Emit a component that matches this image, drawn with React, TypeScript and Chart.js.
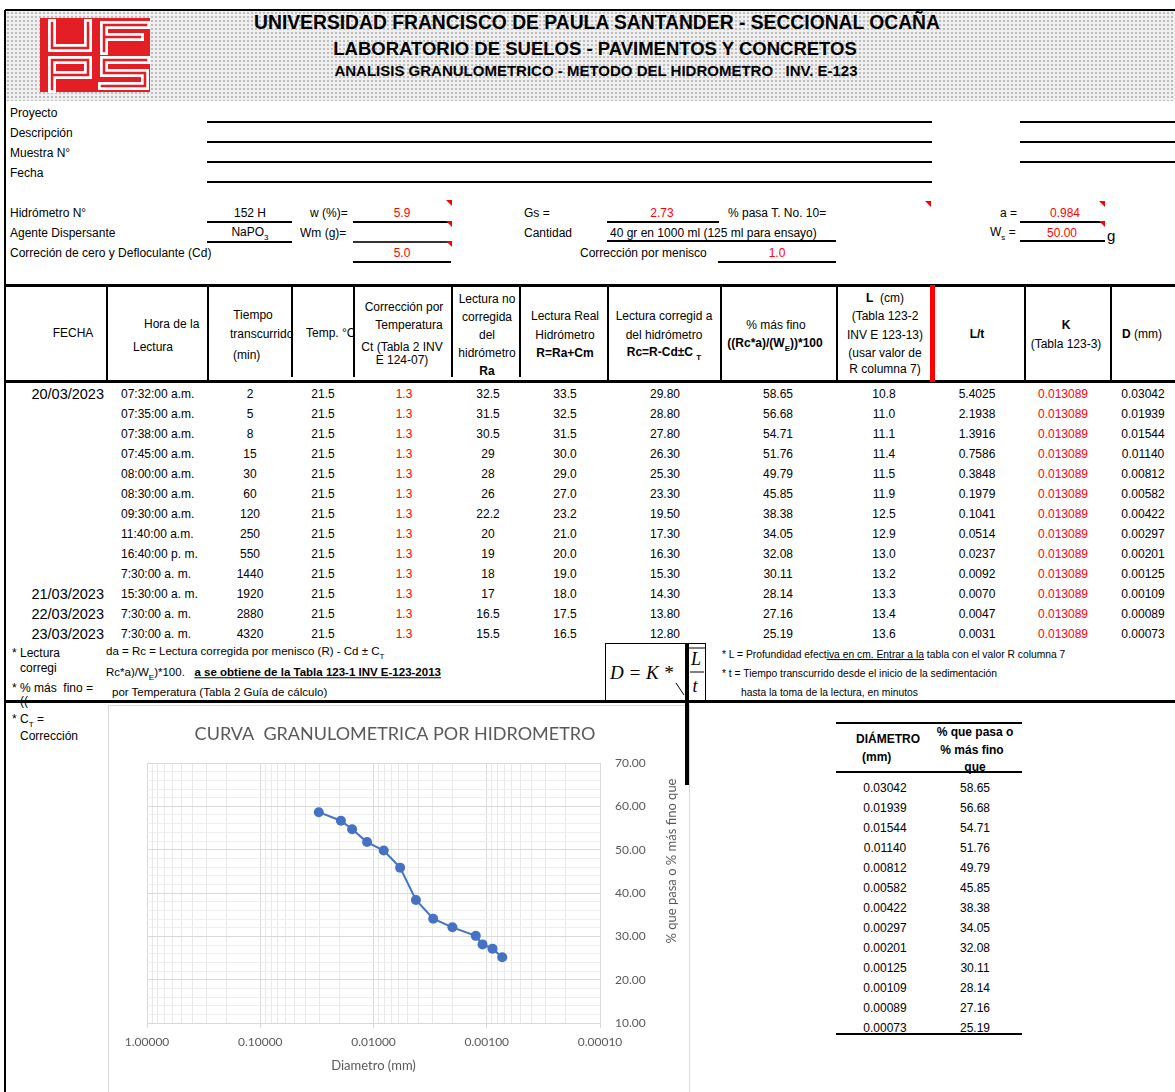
import React, { useEffect, useRef } from 'react';
import { Chart, registerables } from 'chart.js';

Chart.register(...registerables);

// ---------------- DATA ----------------
const fechas = ['20/03/2023', '', '', '', '', '', '', '', '', '', '21/03/2023', '22/03/2023', '23/03/2023'];
const horas = ['07:32:00 a.m.', '07:35:00 a.m.', '07:38:00 a.m.', '07:45:00 a.m.', '08:00:00 a.m.', '08:30:00 a.m.', '09:30:00 a.m.', '11:40:00 a.m.', '16:40:00 p. m.', '7:30:00 a. m.', '15:30:00 a. m.', '7:30:00 a. m.', '7:30:00 a. m.'];
const tiempos = ['2', '5', '8', '15', '30', '60', '120', '250', '550', '1440', '1920', '2880', '4320'];
const temps = ['21.5', '21.5', '21.5', '21.5', '21.5', '21.5', '21.5', '21.5', '21.5', '21.5', '21.5', '21.5', '21.5'];
const ctVals = ['1.3', '1.3', '1.3', '1.3', '1.3', '1.3', '1.3', '1.3', '1.3', '1.3', '1.3', '1.3', '1.3'];
const raVals = ['32.5', '31.5', '30.5', '29', '28', '26', '22.2', '20', '19', '18', '17', '16.5', '15.5'];
const rRealVals = ['33.5', '32.5', '31.5', '30.0', '29.0', '27.0', '23.2', '21.0', '20.0', '19.0', '18.0', '17.5', '16.5'];
const rcVals = ['29.80', '28.80', '27.80', '26.30', '25.30', '23.30', '19.50', '17.30', '16.30', '15.30', '14.30', '13.80', '12.80'];
const pctFiner = [58.65, 56.68, 54.71, 51.76, 49.79, 45.85, 38.38, 34.05, 32.08, 30.11, 28.14, 27.16, 25.19];
const lCm = ['10.8', '11.0', '11.1', '11.4', '11.5', '11.9', '12.5', '12.9', '13.0', '13.2', '13.3', '13.4', '13.6'];
const lOverT = ['5.4025', '2.1938', '1.3916', '0.7586', '0.3848', '0.1979', '0.1041', '0.0514', '0.0237', '0.0092', '0.0070', '0.0047', '0.0031'];
const kVals = ['0.013089', '0.013089', '0.013089', '0.013089', '0.013089', '0.013089', '0.013089', '0.013089', '0.013089', '0.013089', '0.013089', '0.013089', '0.013089'];
const diamMm = [0.03042, 0.01939, 0.01544, 0.0114, 0.00812, 0.00582, 0.00422, 0.00297, 0.00201, 0.00125, 0.00109, 0.00089, 0.00073];

const chartTitle = 'CURVA  GRANULOMETRICA POR HIDROMETRO';
const xTitle = 'Diametro (mm)';
const yTitle = '% que pasa o % más fino que';
const xMin = 0.0001;
const xMax = 1;
const yMin = 10;
const yMax = 70;
const yMinorStep = 2;
const yMajorStep = 10;

// ---------------- HELPERS ----------------
const F = '"Liberation Sans", Arial, Helvetica, sans-serif';
const RED = '#ff0000';
const BLUE = '#4472c4';

type TP = {
  x: number; y: number; children?: React.ReactNode; a?: 'left' | 'center' | 'right';
  s?: number; c?: string; b?: boolean; u?: boolean; i?: boolean; f?: string;
};
function T({ x, y, children, a = 'left', s = 12, c = '#000', b = false, u = false, i = false, f = F }: TP) {
  const tx = a === 'center' ? '-50%' : a === 'right' ? '-100%' : '0';
  return (
    <div
      style={{
        position: 'absolute', left: x, top: y + 1, transform: `translate(${tx},-50%)`,
        fontSize: s, color: c, fontWeight: b ? 700 : 400, textDecoration: u ? 'underline' : 'none',
        fontStyle: i ? 'italic' : 'normal', fontFamily: f, whiteSpace: 'nowrap', lineHeight: 1.15,
      }}
    >
      {children}
    </div>
  );
}
function H({ x1, x2, y, w = 1, c = '#000' }: { x1: number; x2: number; y: number; w?: number; c?: string }) {
  return <div style={{ position: 'absolute', left: x1, top: y - w / 2, width: x2 - x1, height: w, background: c }} />;
}
function V({ x, y1, y2, w = 1, c = '#000' }: { x: number; y1: number; y2: number; w?: number; c?: string }) {
  return <div style={{ position: 'absolute', left: x - w / 2, top: y1, width: w, height: y2 - y1, background: c }} />;
}
function Tri({ x, y }: { x: number; y: number }) {
  return (
    <div style={{ position: 'absolute', left: x, top: y, width: 0, height: 0, borderTop: `6px solid ${RED}`, borderLeft: '6px solid transparent' }} />
  );
}

const isDecade = (v: number) => {
  if (!v || v <= 0) return false;
  const l = Math.log10(v);
  return Math.abs(l - Math.round(l)) < 1e-9;
};

// grid positions for the log axis (1..9 x 10^n)
const xGridValues: number[] = [];
for (let e = -4; e < 0; e++) {
  for (let m = 1; m <= 9; m++) xGridValues.push(Number((m * Math.pow(10, e)).toPrecision(6)));
}
xGridValues.push(1);
const yGridValues: number[] = [];
for (let v = yMin; v <= yMax; v += yMinorStep) yGridValues.push(v);

// ---------------- CHART ----------------
const textPlugin = {
  id: 'extraTexts',
  afterDraw(chart: any) {
    const { ctx, chartArea, width } = chart;
    ctx.save();
    ctx.fillStyle = '#595959';
    ctx.textAlign = 'center';
    ctx.textBaseline = 'middle';
    ctx.font = '18px Lato, "Open Sans", sans-serif';
    ctx.fillText(chartTitle, width / 2 - 4, 29);
    ctx.translate(chartArea.right + 72, chartArea.top + 98);
    ctx.rotate(-Math.PI / 2);
    ctx.font = '13px Lato, "Open Sans", sans-serif';
    ctx.fillText(yTitle, 0, 0);
    ctx.restore();
  },
};

function GranChart() {
  const ref = useRef<HTMLCanvasElement>(null);
  useEffect(() => {
    const chart = new Chart(ref.current as HTMLCanvasElement, {
      type: 'scatter',
      data: {
        datasets: [
          {
            data: diamMm.map((d, i) => ({ x: d, y: pctFiner[i] })),
            showLine: true,
            borderColor: BLUE,
            backgroundColor: BLUE,
            borderWidth: 2,
            pointRadius: 5,
            pointHoverRadius: 5,
            pointBorderWidth: 0,
            tension: 0,
          },
        ],
      },
      options: {
        animation: false,
        responsive: false,
        devicePixelRatio: 1,
        layout: { padding: { left: 39, top: 58, right: 0, bottom: 0 } },
        plugins: { legend: { display: false }, tooltip: { enabled: false }, title: { display: false } },
        scales: {
          x: {
            type: 'logarithmic',
            reverse: true,
            min: xMin,
            max: xMax,
            position: 'bottom',
            afterBuildTicks: (s: any) => {
              s.ticks = xGridValues.map((v) => ({ value: v }));
            },
            afterFit: (s: any) => {
              s.height = 69;
            },
            ticks: {
              autoSkip: false,
              maxRotation: 0,
              minRotation: 0,
              padding: 7,
              color: '#595959',
              font: { family: 'Lato, "Open Sans", sans-serif', size: 12 },
              callback: (v: any) => (isDecade(Number(v)) ? Number(v).toFixed(5) : ''),
            },
            grid: {
              color: (ctx: any) => (ctx.tick && isDecade(ctx.tick.value) ? '#d9d9d9' : '#e9e9e9'),
              tickColor: (ctx: any) => (ctx.tick && isDecade(ctx.tick.value) ? '#d9d9d9' : 'rgba(0,0,0,0)'),
              tickLength: 5,
              lineWidth: 1,
            },
            border: { color: '#d9d9d9' },
            title: {
              display: true,
              text: xTitle,
              color: '#595959',
              font: { family: 'Lato, "Open Sans", sans-serif', size: 13 },
              padding: { top: 0, bottom: 18 },
            },
          },
          y: {
            type: 'linear',
            position: 'right',
            min: yMin,
            max: yMax,
            afterBuildTicks: (s: any) => {
              s.ticks = yGridValues.map((v) => ({ value: v }));
            },
            afterFit: (s: any) => {
              s.width = 90;
            },
            ticks: {
              autoSkip: false,
              padding: 15,
              color: '#595959',
              font: { family: 'Lato, "Open Sans", sans-serif', size: 12 },
              callback: (v: any) => (Number(v) % yMajorStep === 0 ? Number(v).toFixed(2) : ''),
            },
            grid: {
              color: (ctx: any) => (ctx.tick && ctx.tick.value % yMajorStep === 0 ? '#d9d9d9' : '#eeeeee'),
              drawTicks: false,
              lineWidth: 1,
            },
            border: { display: false },
          },
        },
      } as any,
      plugins: [textPlugin],
    });
    return () => chart.destroy();
  }, []);
  return <canvas ref={ref} width={582} height={387} style={{ position: 'absolute', left: 0, top: 0, width: 582, height: 387 }} />;
}

// ---------------- LOGO ----------------
function Logo() {
  const paths = [
    'M52 23 V48 H88 V23',
    'M146 25 H104 V51 M104 37 H140',
    'M52 89 V60 H88 V75 H53',
    'M146 60 H104 V73 H145 V86 H102',
  ];
  return (
    <svg style={{ position: 'absolute', left: 0, top: 0 }} width={160} height={100}>
      <rect x={40} y={18} width={110} height={74} fill="#e31e24" />
      {paths.map((d, i) => (
        <path key={'w' + i} d={d} fill="none" stroke="#fff" strokeWidth={8} strokeLinejoin="miter" strokeLinecap="square" />
      ))}
      {paths.map((d, i) => (
        <path key={'r' + i} d={d} fill="none" stroke="#e31e24" strokeWidth={2.5} strokeLinejoin="miter" strokeLinecap="square" />
      ))}
    </svg>
  );
}

// ---------------- APP ----------------
export default function App() {
  const rowY = (i: number) => 394 + i * 20;
  const sideY = (i: number) => 788 + i * 20;
  const serif = '"Liberation Serif", "Times New Roman", serif';
  return (
    <div style={{ position: 'absolute', left: 0, top: 0, width: 1175, height: 1092, overflow: 'hidden', background: '#fff', fontFamily: F }}>
      {/* header band */}
      <div
        style={{
          position: 'absolute', left: 6, top: 11, width: 1169, height: 90,
          backgroundColor: '#efefef',
          backgroundImage: 'radial-gradient(#bdbdbd 0.9px, transparent 1.1px)',
          backgroundSize: '4px 4px',
        }}
      />
      <H x1={5} x2={1175} y={10} w={1.5} />
      <V x={5} y1={10} y2={1092} w={1.5} />
      <Logo />
      <T x={597} y={22} a="center" s={19.3} b>UNIVERSIDAD FRANCISCO DE PAULA SANTANDER - SECCIONAL OCAÑA</T>
      <T x={595} y={48} a="center" s={18.5} b>LABORATORIO DE SUELOS - PAVIMENTOS Y CONCRETOS</T>
      <T x={596} y={70} a="center" s={15} b>ANALISIS GRANULOMETRICO - METODO DEL HIDROMETRO &nbsp; INV. E-123</T>

      {/* form */}
      <T x={10} y={113}>Proyecto</T>
      <T x={10} y={133}>Descripción</T>
      <T x={10} y={153}>Muestra N°</T>
      <T x={10} y={173}>Fecha</T>
      {[122, 142, 162, 182].map((y) => <H key={'f' + y} x1={207} x2={932} y={y} w={1.5} />)}
      {[122, 142, 162].map((y) => <H key={'g' + y} x1={1020} x2={1175} y={y} w={1.5} />)}

      <T x={10} y={213}>Hidrómetro N°</T>
      <T x={250} y={213} a="center">152 H</T>
      <H x1={207} x2={292} y={222} w={1.5} />
      <T x={310} y={213}>w (%)=</T>
      <T x={402} y={213} a="center" c={RED}>5.9</T>
      <H x1={353} x2={451} y={222} w={1.5} />
      <Tri x={446} y={200} />
      <T x={524} y={213}>Gs =</T>
      <T x={662} y={213} a="center" c={RED}>2.73</T>
      <H x1={607} x2={719} y={222} w={1.5} />
      <T x={728} y={213}>% pasa T. No. 10=</T>
      <Tri x={925} y={201} />
      <T x={1000} y={213}>a =</T>
      <T x={1065} y={213} a="center" c={RED}>0.984</T>
      <H x1={1020} x2={1105} y={222} w={1.5} />
      <Tri x={1099} y={201} />

      <T x={10} y={233}>Agente Dispersante</T>
      <T x={250} y={233} a="center">NaPO<sub style={{ fontSize: 8 }}>3</sub></T>
      <H x1={207} x2={292} y={242} w={1.5} />
      <T x={300} y={233}>Wm (g)=</T>
      <H x1={353} x2={451} y={242} w={1.5} c="#333" />
      <Tri x={446} y={221} />
      <T x={524} y={233}>Cantidad</T>
      <T x={610} y={233}>40 gr en 1000 ml (125 ml para ensayo)</T>
      <H x1={607} x2={836} y={241} w={1.2} />
      <T x={990} y={233}>W<sub style={{ fontSize: 8 }}>s</sub> =</T>
      <T x={1062} y={233} a="center" c={RED}>50.00</T>
      <H x1={1020} x2={1105} y={241} w={1.5} />
      <Tri x={1099} y={221} />
      <T x={1107} y={235} s={15}>g</T>

      <T x={10} y={253}>Correción de cero y Defloculante (Cd)</T>
      <T x={402} y={253} a="center" c={RED}>5.0</T>
      <H x1={353} x2={451} y={262} w={1.5} />
      <Tri x={446} y={241} />
      <T x={580} y={253}>Corrección por menisco</T>
      <T x={777} y={253} a="center" c={RED}>1.0</T>
      <H x1={718} x2={836} y={262} w={1.5} />

      {/* table header texts */}
      <T x={73} y={333} a="center">FECHA</T>
      <T x={144} y={324}>Hora de la</T>
      <T x={133} y={347}>Lectura</T>
      <T x={253} y={315} a="center">Tiempo</T>
      <T x={230} y={334}>transcurrido</T>
      <T x={233} y={355}>(min)</T>
      <T x={306} y={333}>Temp. °C</T>
      <T x={404} y={307} a="center">Corrección por</T>
      <T x={409} y={325} a="center">Temperatura</T>
      <T x={402} y={347} a="center">Ct (Tabla 2 INV</T>
      <T x={402} y={360} a="center">E 124-07)</T>
      <T x={487} y={299} a="center">Lectura no</T>
      <T x={487} y={317} a="center">corregida</T>
      <T x={487} y={335} a="center">del</T>
      <T x={487} y={353} a="center">hidrómetro</T>
      <T x={487} y={371} a="center" b>Ra</T>
      <T x={565} y={316} a="center">Lectura Real</T>
      <T x={565} y={335} a="center">Hidrómetro</T>
      <T x={565} y={353} a="center" b>R=Ra+Cm</T>
      <T x={664} y={316} a="center">Lectura corregid a</T>
      <T x={664} y={335} a="center">del hidrómetro</T>
      <T x={664} y={353} a="center" b>Rc=R-Cd±C <sub style={{ fontSize: 8 }}>T</sub></T>
      <T x={776} y={325} a="center">% más fino</T>
      <T x={775} y={344} a="center" b>((Rc*a)/(W<sub style={{ fontSize: 8 }}>E</sub>))*100</T>
      <T x={885} y={298} a="center"><b>L</b>&nbsp; (cm)</T>
      <T x={885} y={316} a="center">(Tabla 123-2</T>
      <T x={885} y={335} a="center">INV E 123-13)</T>
      <T x={885} y={353} a="center">(usar valor de</T>
      <T x={885} y={369} a="center">R columna 7)</T>
      <T x={977} y={334} a="center" b>L/t</T>
      <T x={1066} y={325} a="center" b>K</T>
      <T x={1066} y={344} a="center">(Tabla 123-3)</T>
      <T x={1142} y={334} a="center"><b>D</b> (mm)</T>

      {/* table header lines */}
      <H x1={5} x2={1175} y={285} w={3} />
      <H x1={5} x2={1175} y={381} w={3} />
      {[107, 208, 608, 721, 837, 1025, 1111].map((x) => <V key={'v' + x} x={x} y1={285} y2={381} w={1.8} />)}
      {[292, 354, 452, 520].map((x) => <V key={'w' + x} x={x} y1={285} y2={377} w={1.8} />)}
      <V x={932.5} y1={285} y2={382} w={5} c={RED} />

      {/* data rows */}
      {horas.map((h, i) => {
        const y = rowY(i);
        return (
          <React.Fragment key={'r' + i}>
            {fechas[i] ? <T x={104} y={y - 1} a="right" s={14.5}>{fechas[i]}</T> : null}
            <T x={121} y={y}>{h}</T>
            <T x={250} y={y} a="center">{tiempos[i]}</T>
            <T x={323} y={y} a="center">{temps[i]}</T>
            <T x={404} y={y} a="center" c={RED}>{ctVals[i]}</T>
            <T x={488} y={y} a="center">{raVals[i]}</T>
            <T x={565} y={y} a="center">{rRealVals[i]}</T>
            <T x={665} y={y} a="center">{rcVals[i]}</T>
            <T x={778} y={y} a="center">{pctFiner[i].toFixed(2)}</T>
            <T x={884} y={y} a="center">{lCm[i]}</T>
            <T x={977} y={y} a="center">{lOverT[i]}</T>
            <T x={1063} y={y} a="center" c={RED}>{kVals[i]}</T>
            <T x={1143} y={y} a="center">{diamMm[i].toFixed(5)}</T>
          </React.Fragment>
        );
      })}

      {/* notes */}
      <T x={12} y={653}>* Lectura</T>
      <T x={20} y={668}>corregi</T>
      <T x={12} y={688}>* % más &nbsp;fino =</T>
      <T x={20} y={701}>((</T>
      <T x={106} y={652} s={11.5}>da = Rc = Lectura corregida por menisco (R) - Cd ± C<sub style={{ fontSize: 8 }}>T</sub></T>
      <T x={106} y={673} s={11.5}>Rc*a)/W<sub style={{ fontSize: 8 }}>E</sub>)*100. &nbsp; <b><u>a se obtiene de la Tabla 123-1 INV E-123-2013</u></b></T>
      <T x={112} y={692} s={11.5}>por Temperatura (Tabla 2 Guía de cálculo)</T>

      {/* formula */}
      <H x1={605} x2={705} y={643} w={1} />
      <V x={605} y1={643} y2={701} w={1} />
      <V x={705} y1={643} y2={701} w={1} />
      <T x={610} y={672} s={19} i f={serif}>D = K *</T>
      <svg style={{ position: 'absolute', left: 670, top: 640 }} width={40} height={62}>
        <line x1={6} y1={43} x2={14} y2={55} stroke="#000" strokeWidth={1} />
        <line x1={19} y1={8} x2={35} y2={8} stroke="#000" strokeWidth={1} />
        <line x1={20} y1={32} x2={34} y2={32} stroke="#000" strokeWidth={1} />
      </svg>
      <T x={696} y={658} a="center" s={18} i f={serif}>L</T>
      <T x={695} y={685} a="center" s={18} i f={serif}>t</T>

      <T x={722} y={654} s={10.3}>* L = Profundidad efect<u>iva en cm. Entrar a la</u> tabla con el valor R columna 7</T>
      <T x={722} y={673} s={10.3}>* t = Tiempo transcurrido desde el inicio de la sedimentación</T>
      <T x={741} y={692} s={10.3}>hasta la toma de la lectura, en minutos</T>

      <H x1={5} x2={1175} y={701} w={3} />
      <T x={12} y={720}>* C<sub style={{ fontSize: 8 }}>T</sub> =</T>
      <T x={20} y={736}>Corrección</T>

      {/* chart */}
      <div style={{ position: 'absolute', left: 108, top: 705, width: 582, height: 400, border: '1px solid #d9d9d9', boxSizing: 'border-box' }} />
      <div style={{ position: 'absolute', left: 108, top: 705, width: 582, height: 387 }}>
        <GranChart />
      </div>
      <V x={687} y1={644} y2={785} w={4.5} />

      {/* side table */}
      <H x1={836} x2={1022} y={723} w={1.2} />
      <T x={888} y={739} a="center" b>DIÁMETRO</T>
      <T x={862} y={757} b>(mm)</T>
      <T x={975} y={732} a="center" b>% que pasa o</T>
      <T x={972} y={750} a="center" b>% más fino</T>
      <T x={975} y={767} a="center" b>que</T>
      <H x1={836} x2={1022} y={772} w={2} />
      {diamMm.map((d, i) => (
        <React.Fragment key={'s' + i}>
          <T x={885} y={sideY(i)} a="center">{d.toFixed(5)}</T>
          <T x={975} y={sideY(i)} a="center">{pctFiner[i].toFixed(2)}</T>
        </React.Fragment>
      ))}
      <H x1={836} x2={1022} y={1034} w={1.2} />
    </div>
  );
}
